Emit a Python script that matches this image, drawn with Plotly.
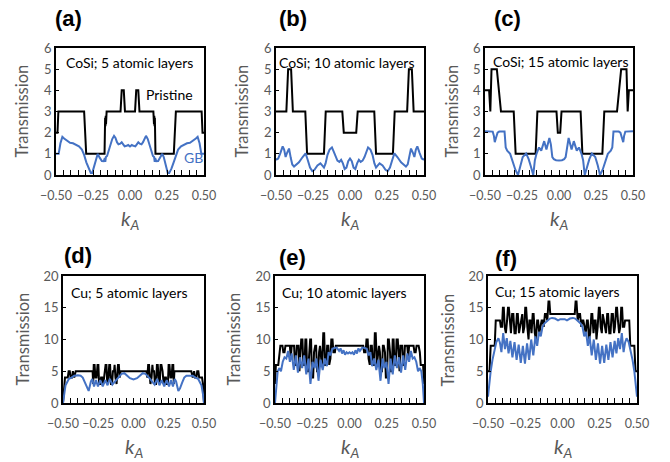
import plotly.graph_objects as go

W, H = 670, 462
BLACK = "#000000"
BLUE = "#4472C4"
GREY = "#595959"
FONT = "Lato"

# ---------------- CoSi, 5 atomic layers ----------------
a_k_pristine = [-0.5, -0.49, -0.484, -0.31, -0.296, -0.172, -0.168, -0.166, -0.164, -0.162, -0.158,
                -0.064, -0.056, -0.042, -0.034, 0.034, 0.042, 0.056, 0.064,
                0.158, 0.162, 0.164, 0.166, 0.168, 0.172, 0.296, 0.31, 0.484, 0.49, 0.5]
a_T_pristine = [2, 2, 3, 3, 1, 1, 2.7, 2.3, 2.8, 2.4, 3,
                3, 4, 4, 3, 3, 4, 4, 3,
                3, 2.4, 2.8, 2.3, 2.7, 1, 1, 3, 3, 2, 2]
a_k_gb = [-0.5, -0.482, -0.47, -0.457, -0.445, -0.425, -0.405, -0.385, -0.365, -0.345, -0.325, -0.31,
          -0.295, -0.28, -0.265, -0.255, -0.24, -0.228, -0.218, -0.205, -0.19, -0.178, -0.17, -0.167,
          -0.163, -0.155, -0.145, -0.132, -0.12, -0.108, -0.098, -0.088, -0.078, -0.066, -0.056, -0.046,
          -0.036, -0.024, -0.012, 0.0,
          0.012, 0.024, 0.036, 0.046, 0.056, 0.066, 0.078, 0.088, 0.098, 0.108, 0.12, 0.132, 0.145,
          0.155, 0.163, 0.167, 0.17, 0.178, 0.19, 0.205, 0.218, 0.228, 0.24, 0.255, 0.265, 0.28, 0.295,
          0.31, 0.325, 0.345, 0.365, 0.385, 0.405, 0.425, 0.445, 0.457, 0.47, 0.482, 0.5]
a_T_gb = [1.0, 1.0, 1.5, 1.8, 1.72, 1.6, 1.52, 1.5, 1.42, 1.35, 1.2, 0.95,
          0.6, 0.3, 0.1, 0.1, 0.45, 0.85, 1.0, 0.82, 0.66, 0.65, 0.8, 0.62,
          0.85, 0.9, 1.15, 1.45, 1.7, 1.85, 1.75, 1.55, 1.45, 1.48, 1.55, 1.45,
          1.35, 1.38, 1.42, 1.35,
          1.42, 1.38, 1.35, 1.45, 1.55, 1.48, 1.45, 1.55, 1.75, 1.85, 1.7, 1.45, 1.15,
          0.9, 0.85, 0.62, 0.8, 0.65, 0.66, 0.82, 1.0, 0.85, 0.45, 0.1, 0.1, 0.3, 0.6,
          0.95, 1.2, 1.35, 1.42, 1.5, 1.52, 1.6, 1.72, 1.8, 1.5, 1.0, 1.0]

# ---------------- CoSi, 10 atomic layers ----------------
b_k_pristine = [-0.5, -0.43, -0.418, -0.398, -0.386, -0.302, -0.29, -0.176, -0.164, -0.052, -0.042,
                0.042, 0.052, 0.164, 0.176, 0.29, 0.302, 0.386, 0.398, 0.418, 0.43, 0.5]
b_T_pristine = [3, 3, 5, 5, 3, 3, 1, 1, 3, 3, 2,
                2, 3, 3, 1, 1, 3, 3, 5, 5, 3, 3]
b_k_gb = [-0.5, -0.485, -0.47, -0.455, -0.445, -0.435, -0.425, -0.412, -0.4, -0.39, -0.378, -0.362,
          -0.345, -0.32, -0.3, -0.285, -0.27, -0.255, -0.24, -0.22, -0.2, -0.188, -0.176, -0.165,
          -0.152, -0.138, -0.122, -0.11, -0.098, -0.085, -0.072, -0.06, -0.048, -0.036, -0.024,
          -0.012, 0.0,
          0.012, 0.024, 0.036, 0.048, 0.06, 0.072, 0.085, 0.098, 0.11, 0.122, 0.138, 0.152, 0.165,
          0.176, 0.188, 0.2, 0.22, 0.24, 0.255, 0.27, 0.285, 0.3, 0.32, 0.345, 0.362, 0.378, 0.39,
          0.4, 0.412, 0.425, 0.435, 0.445, 0.455, 0.47, 0.485, 0.5]
b_T_gb = [0.72, 0.78, 1.05, 1.35, 1.2, 0.85, 1.05, 1.25, 0.8, 0.5, 0.4, 0.5,
          0.6, 0.85, 1.02, 0.7, 0.35, 0.18, 0.25, 0.45, 0.55, 0.45, 0.35, 0.55,
          0.95, 1.2, 1.3, 1.1, 0.85, 0.68, 0.62, 0.72, 0.55, 0.28, 0.35,
          0.65, 0.78,
          0.65, 0.35, 0.28, 0.55, 0.72, 0.62, 0.68, 0.85, 1.1, 1.3, 1.2, 0.95, 0.55,
          0.35, 0.45, 0.55, 0.45, 0.25, 0.18, 0.35, 0.7, 1.02, 0.85, 0.6, 0.5, 0.4, 0.5,
          0.8, 1.25, 1.05, 0.85, 1.2, 1.35, 1.05, 0.78, 0.72]

# ---------------- CoSi, 15 atomic layers ----------------
c_k_pristine = [-0.5, -0.472, -0.464, -0.456, -0.42, -0.392, -0.306, -0.293, -0.158, -0.146,
                -0.017, -0.008, 0.008, 0.017,
                0.146, 0.158, 0.293, 0.306, 0.392, 0.42, 0.456, 0.464, 0.472, 0.5]
c_T_pristine = [4, 4, 3, 5, 5, 3, 3, 1, 1, 3,
                3, 2, 2, 3,
                3, 1, 1, 3, 3, 5, 5, 3, 4, 4]
c_k_gb = [-0.5, -0.448, -0.44, -0.434, -0.426, -0.415, -0.404, -0.368, -0.36, -0.35, -0.33, -0.31,
          -0.295, -0.277, -0.262, -0.245, -0.222, -0.205, -0.19, -0.174, -0.163, -0.152, -0.135,
          -0.12, -0.1, -0.085, -0.065, -0.055, -0.045, -0.035, -0.02, 0.0,
          0.02, 0.035, 0.045, 0.055, 0.065, 0.085, 0.1, 0.12, 0.135, 0.152, 0.163, 0.174, 0.19,
          0.205, 0.222, 0.245, 0.262, 0.277, 0.295, 0.31, 0.33, 0.35, 0.36, 0.368, 0.404, 0.415,
          0.426, 0.434, 0.44, 0.448, 0.5]
c_T_gb = [2.07, 2.05, 1.85, 1.55, 1.75, 2.0, 2.05, 2.05, 1.3, 1.15, 1.0, 0.55,
          0.25, 0.0, 0.45, 0.85, 1.02, 0.75, 0.4, 0.0, 0.7, 1.0, 1.3,
          1.15, 1.6, 1.2, 1.75, 1.45, 0.85, 0.75, 0.7, 0.68,
          0.7, 0.75, 0.85, 1.45, 1.75, 1.2, 1.6, 1.15, 1.3, 1.0, 0.7, 0.0, 0.4,
          0.75, 1.02, 0.85, 0.45, 0.0, 0.25, 0.55, 1.0, 1.15, 1.3, 2.05, 2.05, 2.0,
          1.75, 1.55, 1.85, 2.05, 2.07]

# ---------------- Cu, 5 atomic layers ----------------
d_k_pristine = [-0.5, -0.493, -0.486, -0.466, -0.46, -0.452, -0.446, -0.436, -0.43, -0.42, -0.41,
                -0.29, -0.286, -0.282, -0.276, -0.27, -0.262, -0.255, -0.249, -0.244, -0.236,
                -0.23, -0.222, -0.214, -0.206, -0.198, -0.192, -0.186, -0.178, -0.172, -0.166,
                -0.16, -0.152, -0.146, -0.138, -0.134, -0.128, -0.12, -0.114, -0.11, -0.104,
                -0.098, -0.092, -0.085,
                0.085, 0.092, 0.098, 0.104, 0.11, 0.114, 0.12, 0.128, 0.134, 0.138, 0.146, 0.152,
                0.16, 0.166, 0.172, 0.178, 0.186, 0.192, 0.198, 0.206, 0.214, 0.222, 0.23, 0.236,
                0.244, 0.249, 0.255, 0.262, 0.27, 0.276, 0.282, 0.286, 0.29, 0.41, 0.42, 0.43,
                0.436, 0.446, 0.452, 0.46, 0.466, 0.486, 0.493, 0.5]
d_T_pristine = [0, 3, 4, 4, 5, 5, 4, 4, 5, 4, 5,
                5, 3, 6, 6, 4, 4, 6, 6, 3, 3,
                4, 4, 3, 5, 6, 6, 3, 4, 6, 6,
                3, 3, 5, 5, 6, 4, 3, 5, 6, 6,
                4, 5, 5,
                5, 5, 4, 6, 6, 5, 3, 4, 6, 5, 5, 3,
                3, 6, 6, 4, 3, 6, 6, 5, 3, 4, 4, 3,
                3, 6, 6, 4, 4, 6, 6, 3, 5, 5, 4, 5,
                4, 4, 5, 5, 4, 4, 3, 0]
d_k_gb = [-0.5, -0.492, -0.482, -0.47, -0.458, -0.44, -0.42, -0.395, -0.375, -0.36, -0.345, -0.33,
          -0.318, -0.302, -0.292, -0.28, -0.266, -0.252, -0.236, -0.218, -0.2, -0.184, -0.168,
          -0.15, -0.135, -0.118, -0.1, -0.085, -0.065, -0.045, -0.025, 0.0,
          0.025, 0.045, 0.065, 0.085, 0.1, 0.118, 0.135, 0.15, 0.168, 0.184, 0.2, 0.218, 0.236,
          0.252, 0.266, 0.28, 0.292, 0.302, 0.318, 0.33, 0.345, 0.36, 0.375, 0.395, 0.42, 0.44,
          0.458, 0.47, 0.482, 0.492, 0.5]
d_T_gb = [0, 1.5, 2.8, 3.3, 3.8, 4.0, 4.3, 4.35, 4.3, 4.0, 3.2, 2.3,
          1.9, 3.4, 3.8, 2.6, 3.6, 2.6, 3.6, 2.6, 3.6, 2.8, 3.8,
          2.9, 3.3, 3.8, 4.3, 4.6, 4.7, 4.3, 3.9, 3.7,
          3.9, 4.3, 4.7, 4.6, 4.3, 3.8, 3.3, 2.9, 3.8, 2.8, 3.6, 2.6, 3.6,
          2.6, 3.6, 2.6, 3.8, 3.4, 1.9, 2.3, 3.2, 4.0, 4.3, 4.35, 4.3, 4.0,
          3.8, 3.3, 2.8, 1.5, 0]

# ---------------- Cu, 10 atomic layers ----------------
e_k_pristine = [-0.5, -0.494, -0.478, -0.472, -0.464, -0.45, -0.444, -0.436, -0.43, -0.4, -0.394,
                -0.388, -0.372, -0.366, -0.36, -0.354, -0.342, -0.336, -0.33, -0.324, -0.316,
                -0.31, -0.302, -0.296, -0.29, -0.284, -0.278, -0.272, -0.264, -0.258, -0.252,
                -0.244, -0.238, -0.23, -0.224, -0.218, -0.21, -0.204, -0.198, -0.19, -0.184,
                -0.176, -0.17, -0.164, -0.156, -0.15, -0.142, -0.136, -0.128, -0.122, -0.114,
                -0.108, -0.098, -0.092,
                0.092, 0.098, 0.108, 0.114, 0.122, 0.128, 0.136, 0.142, 0.15, 0.156, 0.164, 0.17,
                0.176, 0.184, 0.19, 0.198, 0.204, 0.21, 0.218, 0.224, 0.23, 0.238, 0.244, 0.252,
                0.258, 0.264, 0.272, 0.278, 0.284, 0.29, 0.296, 0.302, 0.31, 0.316, 0.324, 0.33,
                0.336, 0.342, 0.354, 0.36, 0.366, 0.372, 0.388, 0.394, 0.4, 0.43, 0.436, 0.444,
                0.45, 0.464, 0.472, 0.478, 0.494, 0.5]
e_T_pristine = [3, 6, 6, 8, 9, 9, 8, 8, 9, 9, 7,
                9, 9, 6, 6, 9, 9, 5, 7, 10, 10,
                6, 6, 10, 10, 5, 5, 8, 10, 10, 4,
                4, 8, 9, 9, 5, 5, 8, 9, 7, 6,
                11, 11, 6, 6, 9, 9, 6, 7, 10, 10,
                8, 8, 9,
                9, 8, 8, 10, 10, 7, 6, 9, 9, 6, 6, 11,
                11, 6, 7, 9, 8, 5, 5, 9, 9, 8, 4, 4,
                10, 10, 8, 5, 5, 10, 10, 6, 6, 10, 10, 7,
                5, 9, 9, 6, 6, 9, 9, 7, 9, 9, 8, 8,
                9, 9, 8, 6, 6, 3]
e_k_gb = [-0.5, -0.492, -0.482, -0.47, -0.46, -0.448, -0.436, -0.424, -0.412, -0.4, -0.388, -0.374,
          -0.36, -0.346, -0.332, -0.318, -0.304, -0.29, -0.276, -0.262, -0.248, -0.234, -0.222,
          -0.208, -0.194, -0.18, -0.166, -0.152, -0.14, -0.128, -0.116, -0.1, -0.085, -0.07, -0.06,
          -0.05, -0.04, -0.03, -0.02, -0.01, 0.0,
          0.01, 0.02, 0.03, 0.04, 0.05, 0.06, 0.07, 0.085, 0.1, 0.116, 0.128, 0.14, 0.152, 0.166,
          0.18, 0.194, 0.208, 0.222, 0.234, 0.248, 0.262, 0.276, 0.29, 0.304, 0.318, 0.332, 0.346,
          0.36, 0.374, 0.388, 0.4, 0.412, 0.424, 0.436, 0.448, 0.46, 0.47, 0.482, 0.492, 0.5]
e_T_gb = [0, 3.0, 5.0, 5.5, 5.0, 6.5, 7.2, 7.0, 8.2, 6.5, 7.8, 5.2,
          7.5, 4.8, 7.2, 5.5, 7.5, 4.5, 7.0, 3.0, 6.5, 5.5, 7.0,
          3.5, 6.8, 5.2, 7.0, 5.8, 8.0, 7.5, 8.5, 8.7, 8.7, 8.2, 8.6,
          7.8, 8.3, 7.6, 8.0, 7.8, 8.0,
          7.8, 8.0, 7.6, 8.3, 7.8, 8.6, 8.2, 8.7, 8.7, 8.5, 7.5, 8.0, 5.8, 7.0,
          5.2, 6.8, 3.5, 7.0, 5.5, 6.5, 3.0, 7.0, 4.5, 7.5, 5.5, 7.2, 4.8,
          7.5, 5.2, 7.8, 6.5, 8.2, 7.0, 7.2, 6.5, 5.0, 5.5, 5.0, 3.0, 0]

# ---------------- Cu, 15 atomic layers ----------------
f_k_pristine = [-0.5, -0.49, -0.482, -0.455, -0.448, -0.42, -0.414, -0.406, -0.4, -0.394, -0.388,
                -0.38, -0.372, -0.366, -0.36, -0.352, -0.346, -0.338, -0.33, -0.322, -0.314,
                -0.306, -0.3, -0.292, -0.284, -0.278, -0.27, -0.264, -0.256, -0.25, -0.244,
                -0.236, -0.228, -0.222, -0.216, -0.208, -0.2, -0.194, -0.186, -0.178, -0.17,
                -0.164, -0.156, -0.148, -0.14, -0.132, -0.126, -0.118, -0.11, -0.102, -0.094,
                -0.088, -0.082,
                0.082, 0.088, 0.094, 0.102, 0.11, 0.118, 0.126, 0.132, 0.14, 0.148, 0.156, 0.164,
                0.17, 0.178, 0.186, 0.194, 0.2, 0.208, 0.216, 0.222, 0.228, 0.236, 0.244, 0.25,
                0.256, 0.264, 0.27, 0.278, 0.284, 0.292, 0.3, 0.306, 0.314, 0.322, 0.33, 0.338,
                0.346, 0.352, 0.36, 0.366, 0.372, 0.38, 0.388, 0.394, 0.4, 0.406, 0.414, 0.42,
                0.448, 0.455, 0.482, 0.49, 0.5]
f_T_pristine = [5, 5, 9, 9, 13, 13, 12, 12, 15, 15, 12,
                11, 13, 15, 15, 12, 11, 14, 14, 11, 11,
                14, 14, 11, 12, 13, 14, 11, 12, 15, 15,
                12, 10, 13, 13, 11, 14, 14, 11, 10, 13,
                13, 11, 12, 13, 13, 12, 14, 14, 13, 16,
                16, 14,
                14, 16, 16, 13, 14, 14, 12, 13, 13, 12, 11, 13,
                13, 10, 11, 14, 14, 11, 13, 13, 10, 12, 15, 15,
                12, 11, 14, 13, 12, 11, 14, 14, 11, 11, 14, 14,
                11, 12, 15, 15, 13, 11, 12, 15, 15, 12, 12, 13,
                13, 9, 9, 5, 5]
f_k_gb = [-0.5, -0.492, -0.482, -0.47, -0.458, -0.444, -0.43, -0.42, -0.41, -0.398, -0.386,
          -0.374, -0.362, -0.35, -0.336, -0.322, -0.308, -0.294, -0.28, -0.266, -0.252, -0.238,
          -0.224, -0.21, -0.196, -0.182, -0.17, -0.158, -0.146, -0.134, -0.122, -0.11, -0.1,
          -0.085, -0.07, -0.05, -0.03, -0.015, 0.0,
          0.015, 0.03, 0.05, 0.07, 0.085, 0.1, 0.11, 0.122, 0.134, 0.146, 0.158, 0.17, 0.182,
          0.196, 0.21, 0.224, 0.238, 0.252, 0.266, 0.28, 0.294, 0.308, 0.322, 0.336, 0.35, 0.362,
          0.374, 0.386, 0.398, 0.41, 0.42, 0.43, 0.444, 0.458, 0.47, 0.482, 0.492, 0.5]
f_T_gb = [1.0, 3.0, 5.0, 6.8, 8.3, 9.6, 10.2, 9.5, 8.0, 11.0, 8.5,
          10.2, 7.8, 9.8, 7.2, 9.6, 6.8, 9.2, 6.3, 9.0, 6.2, 9.4,
          6.8, 10.0, 7.5, 10.5, 9.0, 11.2, 10.5, 12.0, 12.5, 12.8, 13.0,
          13.3, 13.4, 13.3, 13.0, 13.2, 13.2,
          13.2, 13.0, 13.3, 13.4, 13.3, 13.0, 12.8, 12.5, 12.0, 10.5, 11.2, 9.0, 10.5,
          7.5, 10.0, 6.8, 9.4, 6.2, 9.0, 6.3, 9.2, 6.8, 9.6, 7.2, 9.8, 7.8,
          10.2, 8.5, 11.0, 8.0, 9.5, 10.2, 9.6, 8.3, 6.8, 5.0, 3.0, 1.0]

panel_titles = ["CoSi; 5 atomic layers", "CoSi; 10 atomic layers", "CoSi; 15 atomic layers",
                "Cu; 5 atomic layers", "Cu; 10 atomic layers", "Cu; 15 atomic layers"]
panel_letters = ["(a)", "(b)", "(c)", "(d)", "(e)", "(f)"]
x_ticks = [-0.5, -0.25, 0.0, 0.25, 0.5]

series = [
    (a_k_pristine, a_T_pristine, a_k_gb, a_T_gb),
    (b_k_pristine, b_T_pristine, b_k_gb, b_T_gb),
    (c_k_pristine, c_T_pristine, c_k_gb, c_T_gb),
    (d_k_pristine, d_T_pristine, d_k_gb, d_T_gb),
    (e_k_pristine, e_T_pristine, e_k_gb, e_T_gb),
    (f_k_pristine, f_T_pristine, f_k_gb, f_T_gb),
]

# plot-area boxes in pixels: (left, right, top, bottom)
boxes = [(56, 204, 48, 175), (276, 424, 48, 175), (485, 633, 48, 175),
         (63, 204, 276, 403), (275, 424, 276, 403), (488, 637, 276, 403)]
y_max = [6, 6, 6, 20, 20, 20]
y_step = [1, 1, 1, 5, 5, 5]
letter_pos = [(68, 18), (293, 18), (507, 18), (78, 255), (292, 257), (506, 258)]
title_pos = [(64, 62), (277, 62), (491, 61), (69, 292), (280, 292), (493, 291)]
ylabel_x = [22, 242, 452, 22, 233, 447]


def fx(p):
    return p / W


def fy(p):
    return 1 - p / H


fig = go.Figure()
annotations = []

for i, (kp, tp, kg, tg) in enumerate(series):
    n = "" if i == 0 else str(i + 1)
    xa, ya = "x" + n, "y" + n
    fig.add_trace(go.Scatter(x=kp, y=tp, mode="lines", xaxis=xa, yaxis=ya,
                             line=dict(color=BLACK, width=2), showlegend=False))
    fig.add_trace(go.Scatter(x=kg, y=tg, mode="lines", xaxis=xa, yaxis=ya,
                             line=dict(color=BLUE, width=2), showlegend=False))
    l, r, t, b = boxes[i]
    fig.layout["xaxis" + n] = dict(
        domain=[fx(l), fx(r)], anchor=ya, range=[-0.5, 0.5], automargin=False,
        tickvals=x_ticks, tickformat=".2f", tickangle=0, ticklabelstandoff=8,
        ticks="inside", ticklen=5, tickwidth=1, tickcolor=BLACK,
        minor=dict(dtick=0.05, tick0=0, ticks="inside", ticklen=5, tickwidth=1, tickcolor=BLACK),
        showline=True, mirror=True, linecolor=BLACK, linewidth=1.5,
        showgrid=False, zeroline=False,
        tickfont=dict(family=FONT, size=12.5, color=GREY),
    )
    fig.layout["yaxis" + n] = dict(
        domain=[fy(b), fy(t)], anchor=xa, range=[0, y_max[i]], dtick=y_step[i], automargin=False,
        ticks="inside", ticklen=3, tickwidth=1, tickcolor=BLACK,
        showline=True, mirror=True, linecolor=BLACK, linewidth=1.5,
        showgrid=False, zeroline=False,
        tickfont=dict(family=FONT, size=13, color=GREY),
    )
    lx, ly = letter_pos[i]
    annotations.append(dict(text="<b>" + panel_letters[i] + "</b>", x=fx(lx), y=fy(ly),
                            xref="paper", yref="paper", showarrow=False,
                            xanchor="center", yanchor="middle",
                            font=dict(family="Liberation Sans", size=22, color=BLACK)))
    tx, ty = title_pos[i]
    annotations.append(dict(text=panel_titles[i], x=fx(tx), y=fy(ty),
                            xref="paper", yref="paper", showarrow=False,
                            xanchor="left", yanchor="middle",
                            font=dict(family=FONT, size=14, color=BLACK)))
    annotations.append(dict(text="Transmission", x=fx(ylabel_x[i]), y=fy((t + b) / 2),
                            xref="paper", yref="paper", showarrow=False, textangle=-90,
                            xanchor="center", yanchor="middle",
                            font=dict(family=FONT, size=16.5, color=GREY)))
    annotations.append(dict(text="<i>k</i><sub><i>A</i></sub>", x=fx((l + r) / 2), y=fy(b + 44),
                            xref="paper", yref="paper", showarrow=False,
                            xanchor="center", yanchor="middle",
                            font=dict(family=FONT, size=20, color=GREY)))

# curve labels in the first panel
annotations.append(dict(text="Pristine", x=fx(144), y=fy(94), xref="paper", yref="paper",
                        showarrow=False, xanchor="left", yanchor="middle",
                        font=dict(family=FONT, size=14, color=BLACK)))
annotations.append(dict(text="GB", x=fx(182), y=fy(157), xref="paper", yref="paper",
                        showarrow=False, xanchor="left", yanchor="middle",
                        font=dict(family=FONT, size=14, color=BLUE)))

fig.update_layout(
    width=W, height=H, margin=dict(l=0, r=0, t=0, b=0, autoexpand=False),
    paper_bgcolor="white", plot_bgcolor="white",
    annotations=annotations, showlegend=False,
)

fig.write_html("out.html")
